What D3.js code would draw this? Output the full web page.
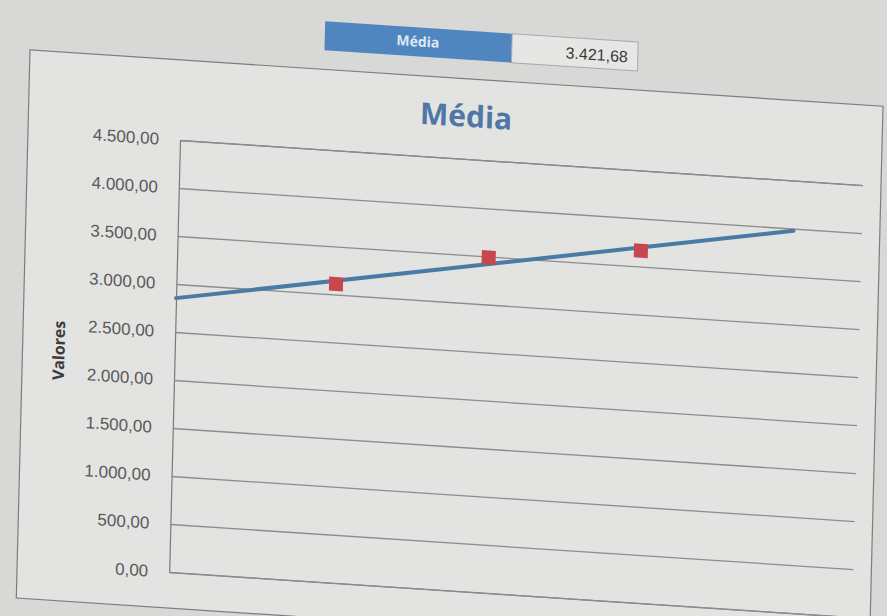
<!DOCTYPE html>
<html>
<head>
<meta charset="utf-8">
<script src="https://cdn.jsdelivr.net/npm/d3@7"></script>
<style>
  body { margin: 0; background: #d8d8d6; }
  svg { display: block; }
</style>
</head>
<body>
<div id="chart"></div>
<script>
// Chart data
const categories = [1, 2, 3];
const values = [3110.04, 3490.00, 3665.00];
const yTicks = [0, 500, 1000, 1500, 2000, 2500, 3000, 3500, 4000, 4500];
const chartTitle = "Média";
const headerLabel = "Média";
const yAxisTitle = "Valores";

const width = 887, height = 616;
// Plot area (before the photo tilt is applied)
const plotLeft = 180, plotRight = 863, plotTop = 140, plotBottom = 572;

// pt-BR number format: 3.421,68
const br = d3.formatLocale({decimal: ",", thousands: ".", grouping: [3], currency: ["R$", ""]});
const fmt = br.format(",.2f");

const svg = d3.select("#chart")
    .append("svg")
    .attr("width", width)
    .attr("height", height);

// The reference is a photo taken at an angle, so everything is slightly tilted
const b = 0.066, c = -0.025;
const g = svg.append("g")
    .attr("transform", `matrix(1, ${b}, ${c}, 1, ${-c * plotTop}, ${-b * plotLeft})`);

// Outer chart border
g.append("rect")
    .attr("x", 28).attr("y", 60)
    .attr("width", 853).attr("height", 548)
    .attr("fill", "#e3e3e1")
    .attr("stroke", "#7d7d7d")
    .attr("stroke-width", 1.2);

// Header cells (label + mean value)
g.append("rect")
    .attr("x", 322).attr("y", 12)
    .attr("width", 187).attr("height", 29)
    .attr("fill", "#4f86c0");
g.append("rect")
    .attr("x", 509).attr("y", 12)
    .attr("width", 126).attr("height", 29)
    .attr("fill", "#e6e6e4")
    .attr("stroke", "#a9a9a9");
g.append("text")
    .attr("x", 415).attr("y", 31)
    .attr("text-anchor", "middle")
    .attr("font-family", "Open Sans, sans-serif")
    .attr("font-weight", "bold")
    .attr("font-size", 14)
    .attr("fill", "#dfe8f2")
    .text(headerLabel);
g.append("text")
    .attr("x", 625).attr("y", 33)
    .attr("text-anchor", "end")
    .attr("font-family", "Liberation Sans, sans-serif")
    .attr("font-size", 16)
    .attr("fill", "#3a3a3a")
    .text(fmt(d3.mean(values)));

// Scales
const x = d3.scaleLinear()
    .domain([-0.05, 4.45])
    .range([plotLeft, plotRight]);
const y = d3.scaleLinear()
    .domain([0, 4500])
    .range([plotBottom, plotTop]);

// Gridlines and tick labels
const yAxis = d3.axisLeft(y)
    .tickValues(yTicks)
    .tickSize(-(plotRight - plotLeft))
    .tickPadding(21)
    .tickFormat(fmt);
const axisG = g.append("g")
    .attr("transform", `translate(${plotLeft},0)`)
    .call(yAxis);
axisG.select(".domain").attr("stroke", "#7a7a7a").attr("stroke-width", 1.2);
axisG.selectAll(".tick line").attr("stroke", "#8c8c8c").attr("stroke-width", 1.3);
axisG.selectAll(".tick text")
    .attr("font-family", "Liberation Sans, sans-serif")
    .attr("font-size", 17)
    .attr("fill", "#5a5a5a");

// Title
g.append("text")
    .attr("x", 465).attr("y", 108)
    .attr("text-anchor", "middle")
    .attr("font-family", "Open Sans, sans-serif")
    .attr("font-weight", "bold")
    .attr("font-size", 30)
    .attr("fill", "#4f77a6")
    .text(chartTitle);

// Y axis title
g.append("text")
    .attr("transform", "translate(70,358) rotate(-90)")
    .attr("text-anchor", "middle")
    .attr("font-family", "Open Sans, sans-serif")
    .attr("font-weight", "bold")
    .attr("font-size", 16)
    .attr("fill", "#3c3c3c")
    .text(yAxisTitle);

// Linear trendline (least squares), forecast one period forward
const mx = d3.mean(categories), my = d3.mean(values);
const slope = d3.sum(categories, (d, i) => (d - mx) * (values[i] - my)) /
    d3.sum(categories, d => (d - mx) * (d - mx));
const intercept = my - slope * mx;
const trendX = [x.domain()[0], categories[categories.length - 1] + 1];
g.append("path")
    .datum(trendX)
    .attr("fill", "none")
    .attr("stroke", "#4a7aa6")
    .attr("stroke-width", 4)
    .attr("stroke-linecap", "round")
    .attr("d", d3.line()
        .x(d => x(d))
        .y(d => y(intercept + slope * d)));

// Markers
const size = 14;
g.append("g")
    .selectAll("rect")
    .data(values)
    .enter()
    .append("rect")
        .attr("x", (d, i) => x(categories[i]) - size / 2)
        .attr("y", d => y(d) - size / 2)
        .attr("width", size)
        .attr("height", size)
        .attr("fill", "#c8464e");
</script>
</body>
</html>
